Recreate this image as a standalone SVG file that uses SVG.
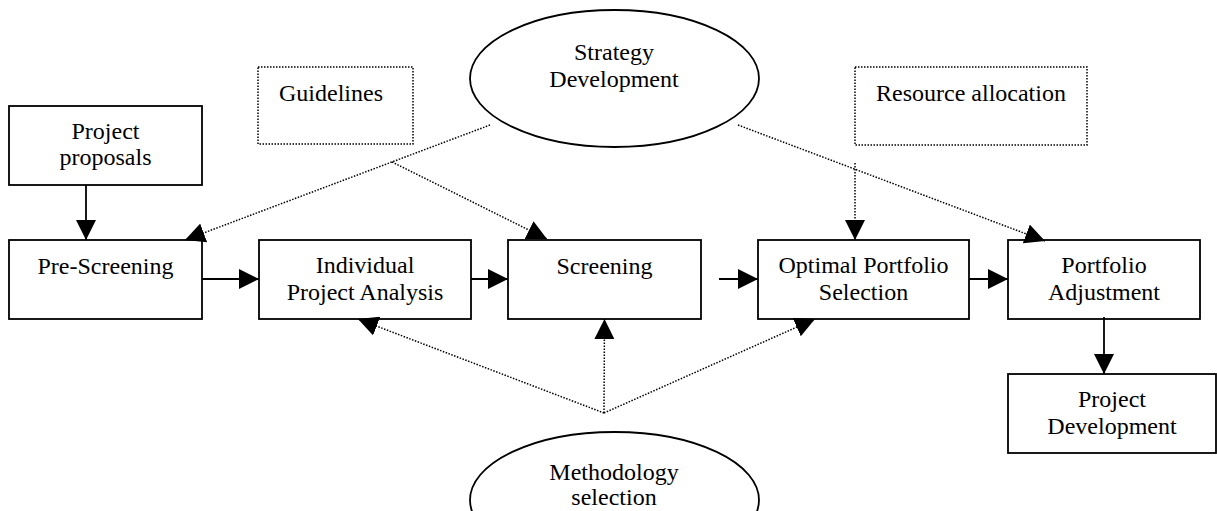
<svg xmlns="http://www.w3.org/2000/svg" width="1217" height="511" viewBox="0 0 1217 511">
<style>
.box{fill:#fff;stroke:#000;stroke-width:1.8}
.dbox{fill:none;stroke:#000;stroke-width:1.5;stroke-dasharray:1.5 1.5}
.ell{fill:#fff;stroke:#000;stroke-width:1.8}
.t{font-family:"Liberation Serif","Times New Roman",serif;font-size:24px;fill:#000;text-anchor:middle}
.solid{stroke:#000;stroke-width:1.8;fill:none}
.dot{stroke:#000;stroke-width:1.5;fill:none;stroke-dasharray:1.5 1.5}
</style>
<defs>
<marker id="ah" markerUnits="userSpaceOnUse" markerWidth="20" markerHeight="20" refX="20" refY="10" orient="auto" viewBox="0 0 20 20">
<path d="M0,0 L20,10 L0,20 Z" fill="#000"/>
</marker>
</defs>

<g id="strategy">
<ellipse class="ell" cx="614.5" cy="78.5" rx="144.5" ry="68.5"/>
<text class="t" x="614" y="60">Strategy</text>
<text class="t" x="614" y="87">Development</text>
</g>
<g id="methodology">
<ellipse class="ell" cx="614.5" cy="500" rx="144.5" ry="68"/>
<text class="t" x="614" y="480">Methodology</text>
<text class="t" x="614" y="505">selection</text>
</g>
<g id="guidelines">
<rect class="dbox" x="258" y="67" width="155" height="77"/>
<text class="t" x="331" y="101">Guidelines</text>
</g>
<g id="resource">
<rect class="dbox" x="855" y="67" width="232" height="78"/>
<text class="t" x="971" y="101">Resource allocation</text>
</g>
<g id="proposals">
<rect class="box" x="9" y="106" width="193" height="79"/>
<text class="t" x="105.5" y="139">Project</text>
<text class="t" x="105.5" y="165">proposals</text>
</g>
<g id="prescreening">
<rect class="box" x="9" y="240" width="193" height="79"/>
<text class="t" x="105.5" y="274">Pre-Screening</text>
</g>
<g id="individual">
<rect class="box" x="259" y="240" width="212" height="79"/>
<text class="t" x="365" y="273">Individual</text>
<text class="t" x="365" y="300">Project Analysis</text>
</g>
<g id="screening">
<rect class="box" x="508" y="240" width="193" height="79"/>
<text class="t" x="604.5" y="274">Screening</text>
</g>
<g id="optimal">
<rect class="box" x="758" y="240" width="211" height="79"/>
<text class="t" x="863.5" y="273">Optimal Portfolio</text>
<text class="t" x="863.5" y="300">Selection</text>
</g>
<g id="adjustment">
<rect class="box" x="1008" y="240" width="192" height="79"/>
<text class="t" x="1104" y="273">Portfolio</text>
<text class="t" x="1104" y="300">Adjustment</text>
</g>
<g id="development">
<rect class="box" x="1008" y="374" width="208" height="79"/>
<text class="t" x="1112" y="407">Project</text>
<text class="t" x="1112" y="434">Development</text>
</g>

<g id="connectors">
<line class="solid" x1="86" y1="185" x2="86" y2="240" marker-end="url(#ah)"/>
<line class="solid" x1="202" y1="279" x2="259" y2="279" marker-end="url(#ah)"/>
<line class="solid" x1="471" y1="279" x2="508" y2="279" marker-end="url(#ah)"/>
<line class="solid" x1="719" y1="279" x2="758" y2="279" marker-end="url(#ah)"/>
<line class="solid" x1="969" y1="279" x2="1008" y2="279" marker-end="url(#ah)"/>
<line class="solid" x1="1104" y1="317" x2="1104" y2="374" marker-end="url(#ah)"/>
<line class="dot" x1="490" y1="125" x2="185" y2="240" marker-end="url(#ah)"/>
<line class="dot" x1="392" y1="162" x2="547" y2="239" marker-end="url(#ah)"/>
<line class="dot" x1="738" y1="125" x2="1045" y2="241" marker-end="url(#ah)"/>
<line class="dot" x1="855" y1="163" x2="855" y2="240" marker-end="url(#ah)"/>
<line class="dot" x1="604" y1="413" x2="358" y2="319" marker-end="url(#ah)"/>
<line class="dot" x1="604" y1="413" x2="604.5" y2="319" marker-end="url(#ah)"/>
<line class="dot" x1="604" y1="413" x2="815" y2="319" marker-end="url(#ah)"/>
</g>
</svg>
